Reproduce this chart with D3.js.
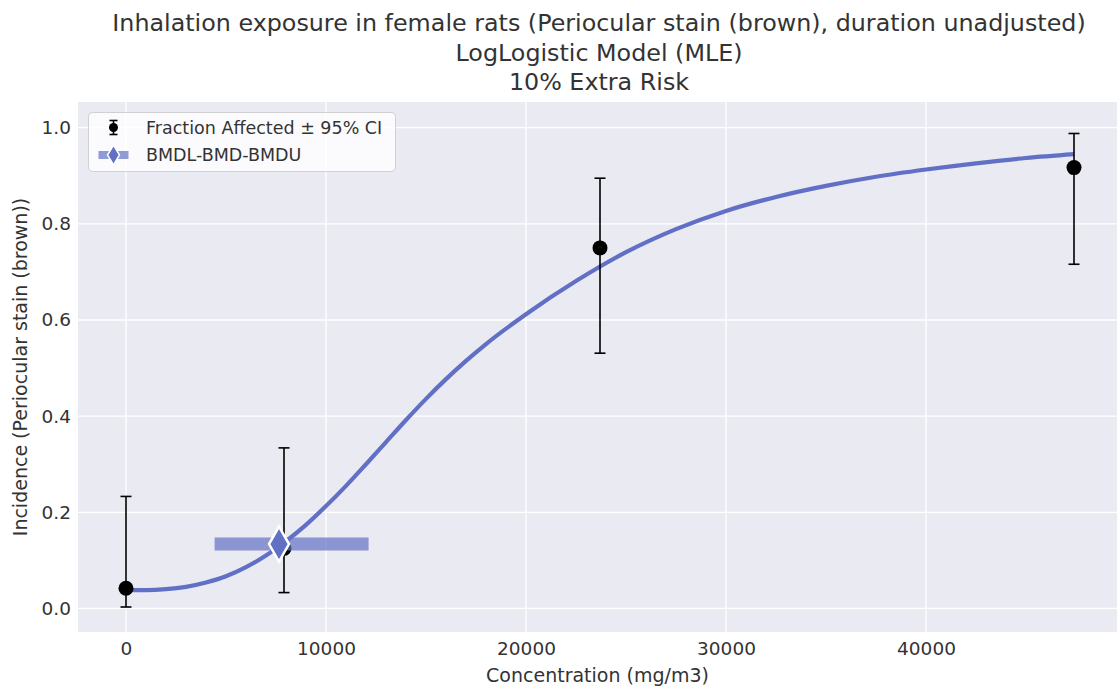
<!DOCTYPE html>
<html>
<head>
<meta charset="utf-8">
<script src="https://cdn.jsdelivr.net/npm/d3@7"></script>
<style>
  body { margin: 0; background: #fff; }
  text { font-family: "DejaVu Sans", sans-serif; fill: #333; }
</style>
</head>
<body>
<div id="chart"></div>
<script>
// Observed data (dose groups)
const doses = [0, 7900, 23700, 47400];
const incidence = [0.042, 0.125, 0.75, 0.917];
const ciLower = [0.003, 0.033, 0.531, 0.716];
const ciUpper = [0.233, 0.334, 0.895, 0.988];

// Fitted curve
const curveDose = [0, 1000, 2000, 3000, 4000, 5000, 6000, 7000, 8000, 9000, 10000,
  11000, 12000, 13000, 14000, 15000, 16000, 17000, 18000, 20000, 22500, 25000, 27500,
  30000, 32500, 35000, 37500, 40000, 42500, 45000, 47400];
const curveResp = [0.038, 0.038, 0.040, 0.045, 0.054, 0.067, 0.086, 0.110, 0.140, 0.174, 0.213,
  0.255, 0.300, 0.346, 0.392, 0.436, 0.477, 0.515, 0.550, 0.612, 0.681, 0.741, 0.789,
  0.827, 0.856, 0.879, 0.898, 0.913, 0.926, 0.937, 0.945];

// BMDL - BMD - BMDU
const bmdl = 4430;
const bmd = 7650;
const bmdu = 12130;
const bmdResp = 0.134;

const xTicks = [0, 10000, 20000, 30000, 40000];
const yTicks = [0, 0.2, 0.4, 0.6, 0.8, 1.0];

const titleLines = [
  'Inhalation exposure in female rats (Periocular stain (brown), duration unadjusted)',
  'LogLogistic Model (MLE)',
  '10% Extra Risk'
];

const width = 1118;
const height = 687;
const plot = { left: 78, right: 1117, top: 102, bottom: 632 };
const lineColor = '#6170c5';

const svg = d3.select('#chart')
    .append('svg')
    .attr('width', width)
    .attr('height', height);

const xScale = d3.scaleLinear()
    .domain([-2400, 49550])
    .range([plot.left, plot.right]);

const yScale = d3.scaleLinear()
    .domain([-0.049, 1.0535])
    .range([plot.bottom, plot.top]);

// Background
svg.append('rect')
    .attr('x', plot.left)
    .attr('y', plot.top)
    .attr('width', plot.right - plot.left)
    .attr('height', plot.bottom - plot.top)
    .attr('fill', '#eaeaf2');

// Grid
const grid = svg.append('g');
grid.selectAll('.gx')
    .data(xTicks)
    .enter()
    .append('line')
    .attr('x1', d => xScale(d))
    .attr('x2', d => xScale(d))
    .attr('y1', plot.top)
    .attr('y2', plot.bottom)
    .attr('stroke', '#fff')
    .attr('stroke-width', 1.3);

grid.selectAll('.gy')
    .data(yTicks)
    .enter()
    .append('line')
    .attr('x1', plot.left)
    .attr('x2', plot.right)
    .attr('y1', d => yScale(d))
    .attr('y2', d => yScale(d))
    .attr('stroke', '#fff')
    .attr('stroke-width', 1.3);

// Axes (no spines, no tick marks)
const xAxis = d3.axisBottom(xScale)
    .tickValues(xTicks)
    .tickSize(0)
    .tickPadding(10)
    .tickFormat(d3.format('d'));

const yAxis = d3.axisLeft(yScale)
    .tickValues(yTicks)
    .tickSize(0)
    .tickPadding(7)
    .tickFormat(d3.format('.1f'));

const gx = svg.append('g')
    .attr('transform', `translate(0,${plot.bottom})`)
    .call(xAxis);
gx.select('.domain').remove();
gx.selectAll('text')
    .style('font-size', '18.5px')
    .attr('fill', '#333');

const gy = svg.append('g')
    .attr('transform', `translate(${plot.left},0)`)
    .call(yAxis);
gy.select('.domain').remove();
gy.selectAll('text')
    .style('font-size', '18.5px')
    .attr('fill', '#333');

// Axis labels
svg.append('text')
    .attr('x', (plot.left + plot.right) / 2)
    .attr('y', 682)
    .attr('text-anchor', 'middle')
    .style('font-size', '19px')
    .text('Concentration (mg/m3)');

svg.append('text')
    .attr('transform', `translate(27,${(plot.top + plot.bottom) / 2}) rotate(-90)`)
    .attr('text-anchor', 'middle')
    .style('font-size', '19px')
    .text('Incidence (Periocular stain (brown))');

// Title
svg.append('g')
    .selectAll('text')
    .data(titleLines)
    .enter()
    .append('text')
    .attr('x', 599)
    .attr('y', (d, i) => 31 + i * 29.5)
    .attr('text-anchor', 'middle')
    .style('font-size', '23.8px')
    .text(d => d);

// Fitted curve
const curveData = curveDose.map((d, i) => ({ x: d, y: curveResp[i] }));
const line = d3.line()
    .x(d => xScale(d.x))
    .y(d => yScale(d.y))
    .curve(d3.curveMonotoneX);

svg.append('path')
    .datum(curveData)
    .attr('d', line)
    .attr('fill', 'none')
    .attr('stroke', lineColor)
    .attr('stroke-width', 4.2);

// Error bars + points
const obs = doses.map((d, i) => ({ x: d, y: incidence[i], lo: ciLower[i], hi: ciUpper[i] }));
const eb = svg.append('g');
obs.forEach(d => {
    const cx = xScale(d.x);
    eb.append('line')
        .attr('x1', cx).attr('x2', cx)
        .attr('y1', yScale(d.lo)).attr('y2', yScale(d.hi))
        .attr('stroke', '#000').attr('stroke-width', 1.6);
    [d.lo, d.hi].forEach(v => {
        eb.append('line')
            .attr('x1', cx - 5.5).attr('x2', cx + 5.5)
            .attr('y1', yScale(v)).attr('y2', yScale(v))
            .attr('stroke', '#000').attr('stroke-width', 1.6);
    });
    eb.append('circle')
        .attr('cx', cx)
        .attr('cy', yScale(d.y))
        .attr('r', 7.5)
        .attr('fill', '#000');
});

// BMD band and marker
svg.append('line')
    .attr('x1', xScale(bmdl))
    .attr('x2', xScale(bmdu))
    .attr('y1', yScale(bmdResp))
    .attr('y2', yScale(bmdResp))
    .attr('stroke', lineColor)
    .attr('stroke-opacity', 0.7)
    .attr('stroke-width', 13);

function diamond(cx, cy, hw, hh) {
    return `M${cx},${cy - hh}L${cx + hw},${cy}L${cx},${cy + hh}L${cx - hw},${cy}Z`;
}

svg.append('path')
    .attr('d', diamond(xScale(bmd), yScale(bmdResp), 10, 17.5))
    .attr('fill', lineColor)
    .attr('stroke', '#fff')
    .attr('stroke-width', 2.5);

// Legend
const legend = svg.append('g');
legend.append('rect')
    .attr('x', 88.5)
    .attr('y', 112.5)
    .attr('width', 307)
    .attr('height', 59)
    .attr('rx', 4)
    .attr('fill', '#fff')
    .attr('fill-opacity', 0.8)
    .attr('stroke', '#d0d0d0')
    .attr('stroke-width', 1);

const lx = 113.5;
const ly1 = 127.5;
const ly2 = 155;
legend.append('line')
    .attr('x1', lx).attr('x2', lx)
    .attr('y1', ly1 - 7).attr('y2', ly1 + 7)
    .attr('stroke', '#000').attr('stroke-width', 1.6);
[ly1 - 7, ly1 + 7].forEach(v => {
    legend.append('line')
        .attr('x1', lx - 4).attr('x2', lx + 4)
        .attr('y1', v).attr('y2', v)
        .attr('stroke', '#000').attr('stroke-width', 1.6);
});
legend.append('circle')
    .attr('cx', lx).attr('cy', ly1).attr('r', 4.5)
    .attr('fill', '#000');

legend.append('line')
    .attr('x1', lx - 15).attr('x2', lx + 15)
    .attr('y1', ly2).attr('y2', ly2)
    .attr('stroke', lineColor)
    .attr('stroke-opacity', 0.7)
    .attr('stroke-width', 8);
legend.append('path')
    .attr('d', diamond(lx, ly2, 6, 10))
    .attr('fill', lineColor)
    .attr('stroke', '#fff')
    .attr('stroke-width', 1.5);

legend.selectAll('.lt')
    .data(['Fraction Affected \u00b1 95% CI', 'BMDL-BMD-BMDU'])
    .enter()
    .append('text')
    .attr('x', 146)
    .attr('y', (d, i) => (i === 0 ? ly1 : ly2) + 6)
    .style('font-size', '17.5px')
    .text(d => d);
</script>
</body>
</html>
